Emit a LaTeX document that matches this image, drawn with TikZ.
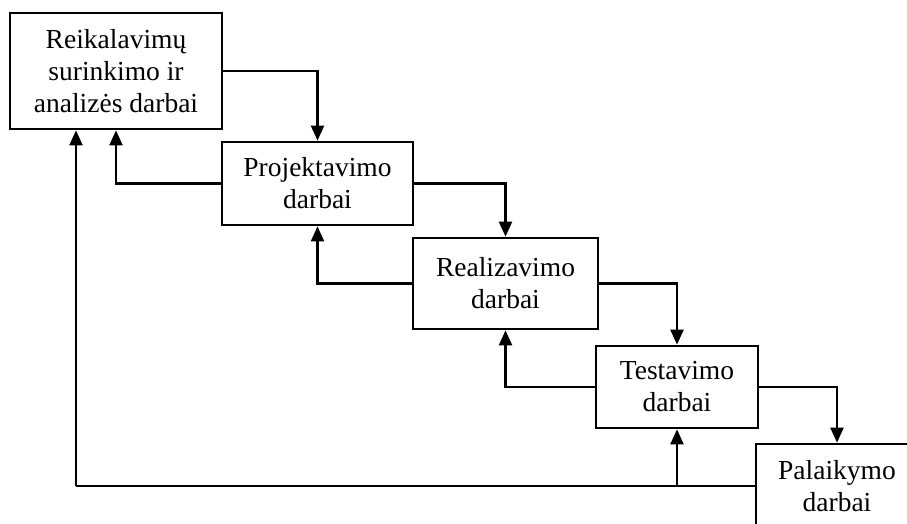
\documentclass[tikz,border=0pt]{standalone}
\usepackage{fontspec}
\setmainfont{Liberation Serif}
\usetikzlibrary{arrows.meta}

\begin{document}
\begin{tikzpicture}[x=1pt, y=-1pt,
    stagebox/.style={draw, line width=2.7pt, rectangle, align=center, inner sep=0pt,
                     font=\fontsize{27.5}{32}\selectfont},
    flow/.style={line width=2.2pt, line join=miter, -{Triangle[width=13pt,length=15pt]}},
    plain/.style={line width=2.2pt}]
  \useasboundingbox (0,0) rectangle (907,523);

  % life-cycle stages
  \node[stagebox, minimum width=212pt, minimum height=116pt] (b1) at (116,71)
    {Reikalavimų\\surinkimo ir\\analizės darbai};
  \node[stagebox, minimum width=191pt, minimum height=83pt] (b2) at (317.5,183.5)
    {Projektavimo\\darbai};
  \node[stagebox, minimum width=185pt, minimum height=91pt] (b3) at (505.5,283.5)
    {Realizavimo\\darbai};
  \node[stagebox, minimum width=162pt, minimum height=82pt] (b4) at (677,387)
    {Testavimo\\darbai};
  \node[stagebox, minimum width=162pt, minimum height=84pt] (b5) at (837,486)
    {Palaikymo\\darbai};

  % forward transitions
  \draw[flow] (b1.east) -| (b2.north);
  \draw[flow] (b2.east) -| (b3.north);
  \draw[flow] (b3.east) -| (b4.north);
  \draw[flow] (b4.east) -| (b5.north);

  % feedback to the previous stage
  \draw[flow] (b2.west) -| (b1.south);
  \draw[flow] (b3.west) -| (b2.south);
  \draw[flow] (b4.west) -| (b3.south);

  % feedback from maintenance
  \coordinate (back) at (76,486);
  \draw[plain] (b5.west) -- (back);
  \draw[flow] (back) -- (back |- b1.south);
  \draw[flow] (b4.south |- b5.west) -- (b4.south);
\end{tikzpicture}
\end{document}
